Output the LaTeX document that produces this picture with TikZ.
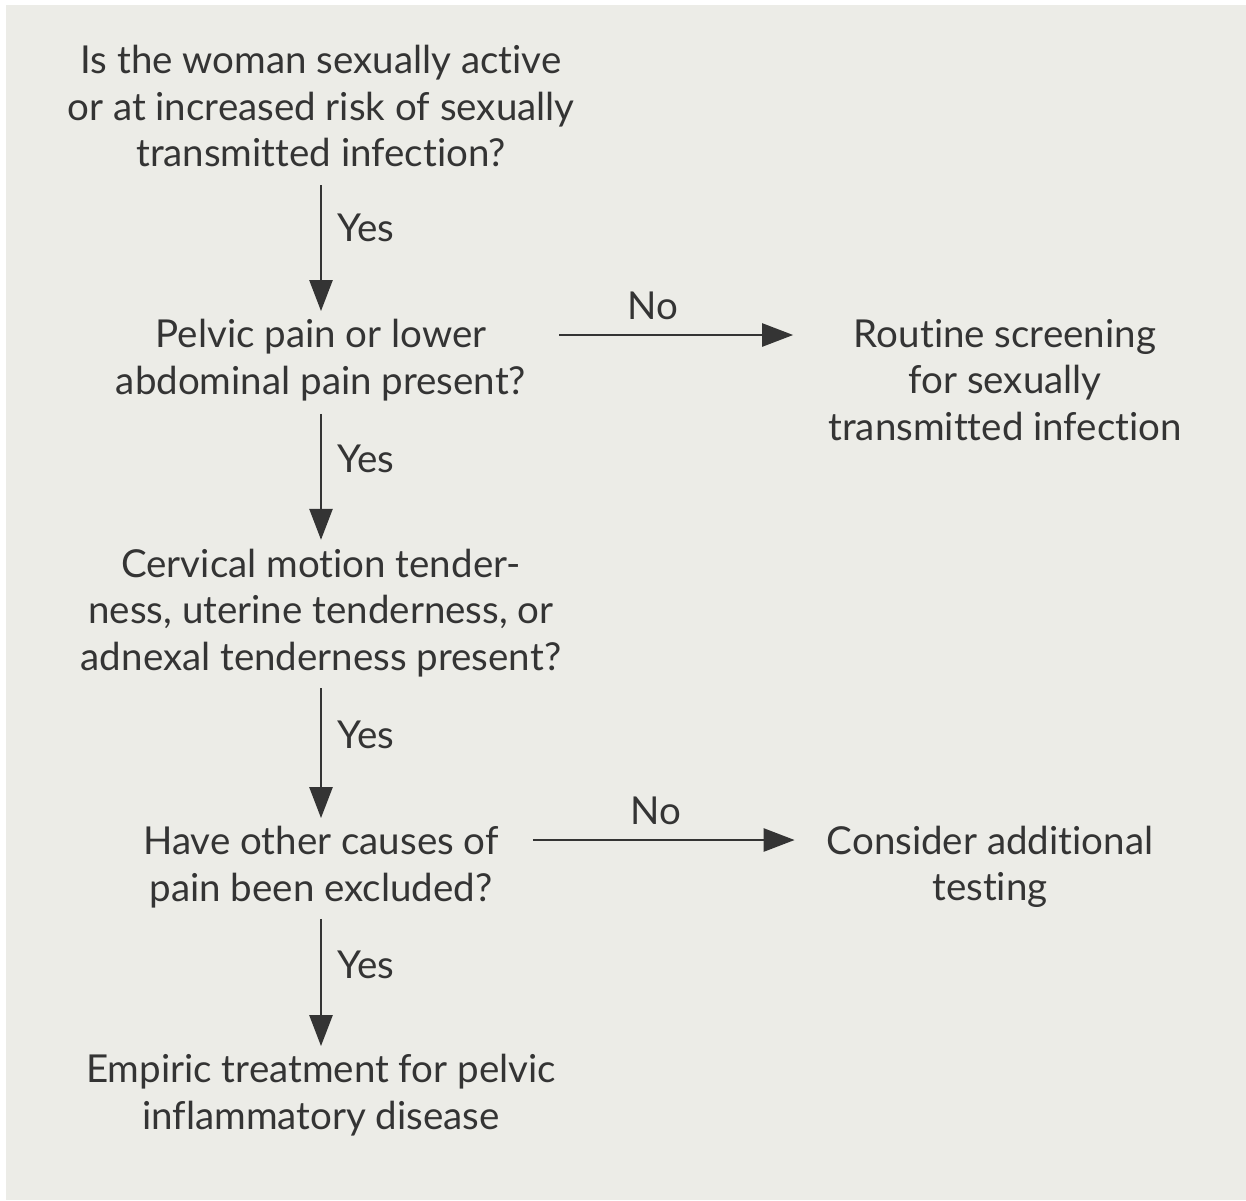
\documentclass[tikz,border=0pt]{standalone}
\usepackage{fontspec}
\setmainfont{Lato}[Ligatures={NoCommon}]
\usetikzlibrary{arrows.meta}
\definecolor{bg}{RGB}{236,236,231}
\definecolor{ink}{RGB}{52,52,52}
\begin{document}
\begin{tikzpicture}[x=1pt,y=1pt,
  txt/.style={align=center, text=ink, font=\fontsize{38.5}{46.5}\selectfont, inner sep=0pt},
  arr/.style={draw=ink, line width=2.6pt, -{Triangle[length=31pt,width=23pt]}},
  lbl/.style={text=ink, font=\fontsize{38.5}{40}\selectfont, inner sep=0pt}]
\fill[white] (0,0) rectangle (1246,-1200);
\fill[bg] (6,-5) rectangle (1246,-1200);
\useasboundingbox (0,0) rectangle (1246,-1200);
\node[txt] (q1) at (321,-106) {Is the woman sexually active\\or at increased risk of sexually\\transmitted infection?};
\node[txt] (q2) at (321,-360) {Pelvic pain or lower\\abdominal pain present?};
\node[txt] (r1) at (1005,-380) {Routine screening\\for sexually\\transmitted infection};
\node[txt] (q3) at (321,-613) {Cervical motion tender-\\ness, uterine tenderness, or\\adnexal tenderness present?};
\node[txt] (q4) at (321,-867) {Have other causes of\\pain been excluded?};
\node[txt] (r2) at (990,-867) {Consider additional\\testing};
\node[txt] (q5) at (321,-1095) {Empiric treatment for pelvic\\inflammatory disease};
\draw[arr, shorten <=18pt, shorten >=8pt] (q1.south) -- node[lbl, pos=0.40, right=15pt] {Yes} (q2.north);
\draw[arr, shorten <=13pt, shorten >=9pt] (q2.south) -- node[lbl, pos=0.39, right=15pt] {Yes} (q3.north);
\draw[arr, shorten <=11pt, shorten >=8pt] (q3.south) -- node[lbl, pos=0.39, right=15pt] {Yes} (q4.north);
\draw[arr, shorten <=11pt, shorten >=8pt] (q4.south) -- node[lbl, pos=0.39, right=15pt] {Yes} (q5.north);
\draw[arr, shorten <=33pt, shorten >=35pt] ([yshift=25pt]q2.east) -- node[lbl, pos=0.42, above=14pt] {No} ([yshift=45pt]r1.west);
\draw[arr, shorten <=34pt, shorten >=32pt] ([yshift=27pt]q4.east) -- node[lbl, pos=0.48, above=14pt] {No} ([yshift=27pt]r2.west);
\end{tikzpicture}
\end{document}
